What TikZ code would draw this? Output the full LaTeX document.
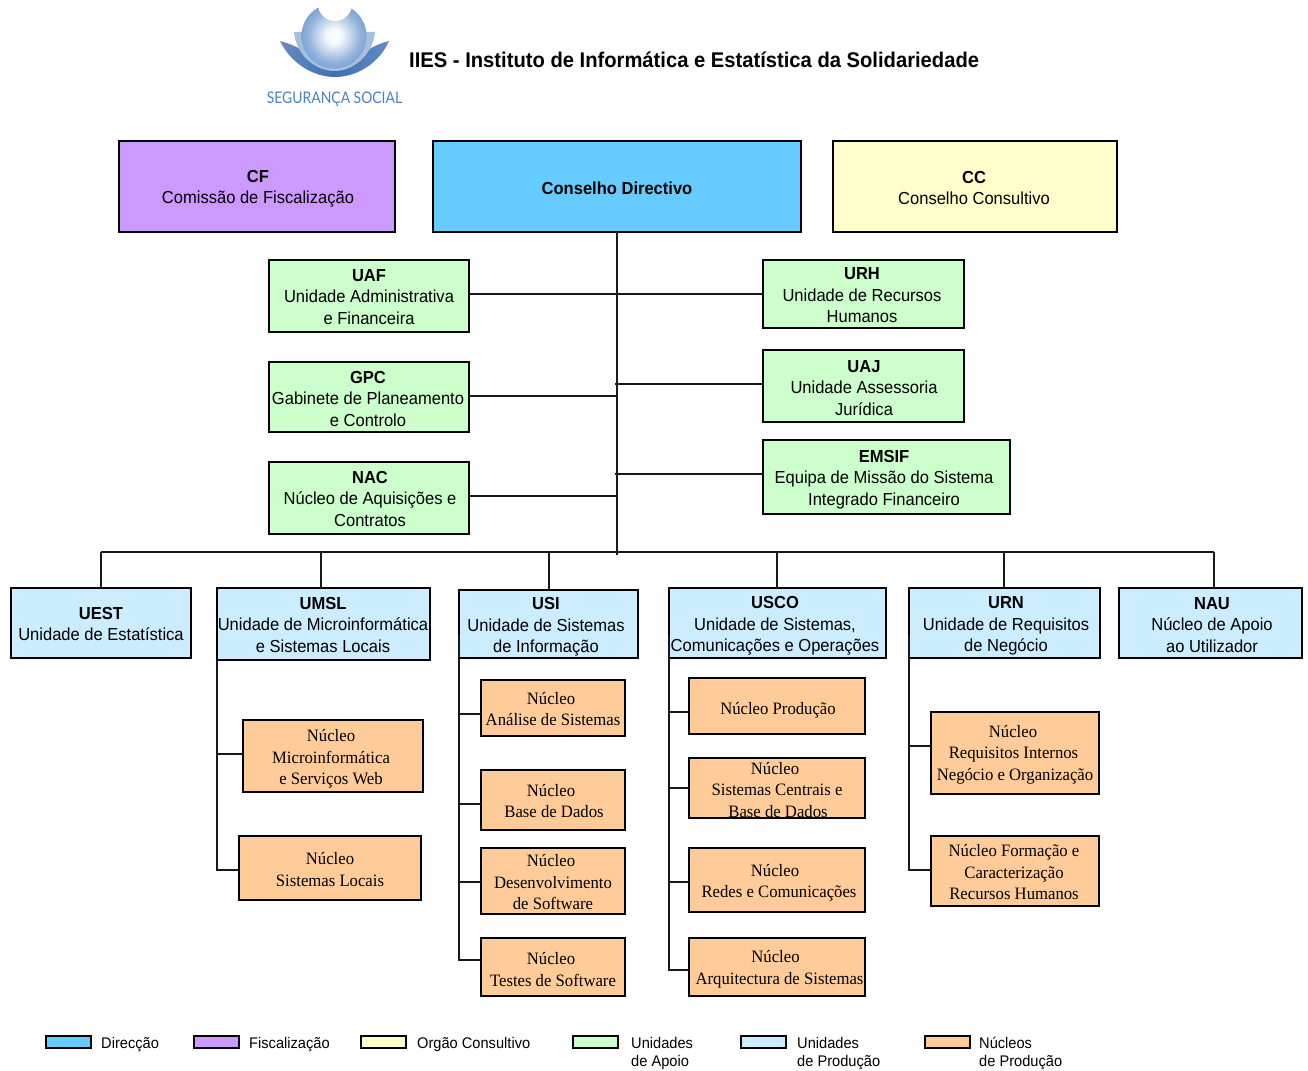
\documentclass[tikz,border=0pt]{standalone}
\usepackage{fontspec}
\setmainfont[FakeStretch=0.95]{Liberation Sans}
\newfontfamily\serifnuc[FakeStretch=0.96]{Liberation Serif}
\newfontfamily\logofont[FakeStretch=0.87]{Lato}
\definecolor{cdir}{HTML}{66CCFF}
\definecolor{cfis}{HTML}{CC99FF}
\definecolor{ccon}{HTML}{FFFFCC}
\definecolor{capo}{HTML}{CCFFCC}
\definecolor{cpro}{HTML}{CCECFF}
\definecolor{cnuc}{HTML}{FFCC99}
\definecolor{logoblue}{HTML}{4A82BE}
\definecolor{ballmid}{HTML}{93B2DB}
\definecolor{ballout}{HTML}{5687C5}
\definecolor{ballrim}{HTML}{4272B2}
\definecolor{wingdark}{HTML}{3C70B2}
\definecolor{midlayer}{HTML}{A6BEDF}
\pgfdeclareradialshading{logoball}{\pgfpoint{0bp}{0bp}}{color(0bp)=(white); color(6bp)=(white!90!ballmid); color(20bp)=(ballmid); color(36bp)=(ballout); color(50bp)=(ballrim)}
\tikzset{
  boxbase/.style={draw=black,line width=2pt,inner sep=0pt,outer sep=0pt},
  dirbox/.style={boxbase,fill=cdir},
  fisbox/.style={boxbase,fill=cfis},
  conbox/.style={boxbase,fill=ccon},
  apobox/.style={boxbase,fill=capo},
  probox/.style={boxbase,fill=cpro},
  nucbox/.style={boxbase,fill=cnuc},
  swatch/.style={draw=black,line width=2pt,inner sep=0pt,outer sep=0pt,minimum width=45pt,minimum height=12pt},
  maintxt/.style={align=center,inner sep=0pt,font=\fontsize{17.4}{21.5}\selectfont},
  nuctxt/.style={align=center,inner sep=0pt,font=\serifnuc\fontsize{17.4}{21.5}\selectfont},
  legtxt/.style={align=left,anchor=west,inner sep=0pt,font=\fontsize{15.4}{18.5}\selectfont},
  conn/.style={line width=2pt,draw=black!90}
}
\newcommand{\bx}[9]{%
  \node[#6,minimum width={#4-#2},minimum height={#5-#3}] (#1) at ({(#2+#4)/2},{(#3+#5)/2}) {};
  \node[#1txtstyle] (#1-t) at (#7,#8) {#9};
}
\begin{document}
\begin{tikzpicture}[x=1pt,y=-1pt]
\useasboundingbox (0,0) rectangle (1308,1070);
% logo
\shade[left color=wingdark!80!white,right color=wingdark!80!white,middle color=wingdark]
  (280,41) .. controls (290,62) and (312,77) .. (335,77) .. controls (358,77) and (380,62) .. (389,41)
  .. controls (378,44) and (372,47) .. (365,52) -- (305,52) .. controls (298,47) and (290,44) .. (280,41) -- cycle;
\fill[midlayer] (294,32) .. controls (296,55) and (315,71) .. (335,71) .. controls (353,71) and (373,55) .. (375,32) -- cycle;
\shade[shading=logoball] (334,36) circle[radius=32.5];
\fill[white] (335,4) circle[radius=17];
\node[inner sep=0pt,text=logoblue,font=\logofont\fontsize{16}{18}\selectfont] (logotxt) at (334.5,99) {SEGURANÇA SOCIAL};
\node[inner sep=0pt,anchor=west,font=\bfseries\fontsize{21.25}{26}\selectfont] (title) at (409,59.5) {IIES - Instituto de Informática e Estatística da Solidariedade};
% top row
\tikzset{cftxtstyle/.style=maintxt,cdtxtstyle/.style=maintxt,cctxtstyle/.style=maintxt}
\bx{cf}{119}{141}{395}{232}{fisbox}{258}{189}{\textbf{CF}\\Comissão de Fiscalização}
\bx{cd}{433}{141}{801}{232}{dirbox}{617}{188}{\textbf{Conselho Directivo}}
\bx{cc}{833}{141}{1117}{232}{conbox}{974}{188}{\textbf{CC}\\Conselho Consultivo}
% apoio
\tikzset{uaftxtstyle/.style=maintxt,gpctxtstyle/.style=maintxt,nactxtstyle/.style=maintxt,urhtxtstyle/.style=maintxt,uajtxtstyle/.style=maintxt,emsiftxtstyle/.style=maintxt}
\bx{uaf}{269}{260}{469}{332}{apobox}{369}{297}{\textbf{UAF}\\Unidade Administrativa\\e Financeira}
\bx{gpc}{269}{362}{469}{432}{apobox}{368}{399}{\textbf{GPC}\\Gabinete de Planeamento\\e Controlo}
\bx{nac}{269}{462}{469}{534}{apobox}{370}{499}{\textbf{NAC}\\Núcleo de Aquisições e\\Contratos}
\bx{urh}{763}{260}{964}{328}{apobox}{862}{295.5}{\textbf{URH}\\Unidade de Recursos\\Humanos}
\bx{uaj}{763}{350}{964}{422}{apobox}{864}{388}{\textbf{UAJ}\\Unidade Assessoria\\Jurídica}
\bx{emsif}{763}{440}{1010}{514}{apobox}{884}{479.5}{\textbf{EMSIF}\\Equipa de Missão do Sistema\\Integrado Financeiro}
% production units
\tikzset{uesttxtstyle/.style=maintxt,umsltxtstyle/.style=maintxt,usitxtstyle/.style=maintxt,uscotxtstyle/.style=maintxt,urntxtstyle/.style=maintxt,nautxtstyle/.style=maintxt}
\bx{uest}{11}{588}{191}{658}{probox}{101}{624}{\textbf{UEST}\\Unidade de Estatística}
\bx{umsl}{217}{588}{430}{660}{probox}{323}{625}{\textbf{UMSL}\\Unidade de Microinformática\\e Sistemas Locais}
\bx{usi}{459}{590}{638}{658}{probox}{546}{627}{\textbf{USI}\\Unidade de Sistemas\\de Informação}
\bx{usco}{669}{588}{886}{658}{probox}{775}{626}{\textbf{USCO}\\Unidade de Sistemas,\\Comunicações e Operações}
\bx{urn}{909}{588}{1100}{658}{probox}{1006}{626}{\textbf{URN}\\Unidade de Requisitos\\de Negócio}
\bx{nau}{1119}{588}{1302}{658}{probox}{1212}{625}{\textbf{NAU}\\Núcleo de Apoio\\ao Utilizador}
% nucleos
\tikzset{nmictxtstyle/.style=nuctxt,nsltxtstyle/.style=nuctxt,nastxtstyle/.style=nuctxt,nbdtxtstyle/.style=nuctxt,ndstxtstyle/.style=nuctxt,ntstxtstyle/.style=nuctxt,nprtxtstyle/.style=nuctxt,nsctxtstyle/.style=nuctxt,nrctxtstyle/.style=nuctxt,nartxtstyle/.style=nuctxt,nritxtstyle/.style=nuctxt,nfctxtstyle/.style=nuctxt}
\bx{nmic}{243}{720}{423}{792}{nucbox}{331}{759}{Núcleo\\Microinformática\\e Serviços Web}
\bx{nsl}{239}{836}{421}{900}{nucbox}{330}{869.5}{Núcleo\\Sistemas Locais}
\bx{nas}{481}{680}{625}{736}{nucbox}{553}{709}{\hspace*{-4pt}Núcleo\\Análise de Sistemas}
\bx{nbd}{481}{770}{625}{830}{nucbox}{554}{801}{\hspace*{-6pt}Núcleo\\Base de Dados}
\bx{nds}{481}{848}{625}{914}{nucbox}{553}{882.5}{\hspace*{-4pt}Núcleo\\Desenvolvimento\\de Software}
\bx{nts}{481}{938}{625}{996}{nucbox}{553}{969.5}{\hspace*{-4pt}Núcleo\\Testes de Software}
\bx{npr}{689}{678}{865}{734}{nucbox}{778}{710}{Núcleo Produção}
\bx{nsc}{689}{758}{865}{818}{nucbox}{777}{790}{\hspace*{-4pt}Núcleo\\Sistemas Centrais e\\\hspace*{2pt}Base de Dados}
\bx{nrc}{689}{848}{865}{912}{nucbox}{779}{883}{\hspace*{-8pt}Núcleo\\Redes e Comunicações}
\bx{nar}{689}{938}{865}{996}{nucbox}{779.5}{969.5}{\hspace*{-8pt}Núcleo\\Arquitectura de Sistemas}
\bx{nri}{931}{712}{1099}{794}{nucbox}{1015}{754.5}{\hspace*{-4pt}Núcleo\\\hspace*{-3pt}Requisitos Internos\\Negócio e Organização}
\bx{nfc}{931}{836}{1099}{906}{nucbox}{1014}{872.5}{Núcleo Formação e\\Caracterização\\Recursos Humanos}
% junctions
\coordinate (trunkend) at (617,555);
\coordinate (busl) at (101,552);
\coordinate (busr) at (1214,552);
\coordinate (juaf) at (617,294);
\coordinate (juaj) at (615,384);
\coordinate (jgpc) at (617,396);
\coordinate (jems) at (615,474);
\coordinate (jnac) at (617,496);
\coordinate (sp1) at (217,870);
\coordinate (sp2) at (459,960);
\coordinate (sp3) at (669,970);
\coordinate (sp4) at (909,870);
\begin{scope}[conn]
\draw (cd.south) -- (cd.south |- trunkend);
\draw (uaf.east |- juaf) -- (urh.west |- juaf);
\draw (juaj) -- (uaj.west |- juaj);
\draw (gpc.east |- jgpc) -- (jgpc);
\draw (jems) -- (emsif.west |- jems);
\draw (nac.east |- jnac) -- (jnac);
\draw (busl) -- (busr);
\draw (busl) -- (uest.north);
\draw (321,552) -- (321,588);
\draw (549,552) -- (549,590);
\draw (777,552) -- (777,588);
\draw (1004,552) -- (1004,588);
\draw (1214,552) -- (1214,588);
% spines
\draw (umsl.south west) -- (sp1) -- (nsl.west |- sp1);
\draw (217,754) -- (nmic.west |- 0,754);
\draw (459,635) -- (sp2) -- (nts.west |- sp2);
\draw (459,714) -- (nas.west |- 0,714);
\draw (459,804) -- (nbd.west |- 0,804);
\draw (459,882) -- (nds.west |- 0,882);
\draw (669,635) -- (sp3) -- (nar.west |- sp3);
\draw (669,712) -- (npr.west |- 0,712);
\draw (669,788) -- (nsc.west |- 0,788);
\draw (669,882) -- (nrc.west |- 0,882);
\draw (909,635) -- (sp4) -- (nfc.west |- sp4);
\draw (909,746) -- (nri.west |- 0,746);
\end{scope}
% legend
\node[swatch,fill=cdir] (l1) at (68,1042) {};
\node[legtxt] (l1t) at (101,1045) {Direcção};
\node[swatch,fill=cfis] (l2) at (216,1042) {};
\node[legtxt] (l2t) at (249,1045) {Fiscalização};
\node[swatch,fill=ccon] (l3) at (383,1042) {};
\node[legtxt] (l3t) at (417,1045) {Orgão Consultivo};
\node[swatch,fill=capo] (l4) at (595,1042) {};
\node[legtxt] (l4t) at (631,1053.5) {Unidades\\de Apoio};
\node[swatch,fill=cpro] (l5) at (763,1042) {};
\node[legtxt] (l5t) at (797,1053.5) {Unidades\\de Produção};
\node[swatch,fill=cnuc] (l6) at (947,1042) {};
\node[legtxt] (l6t) at (979,1053.5) {Núcleos\\de Produção};
\end{tikzpicture}
\end{document}
